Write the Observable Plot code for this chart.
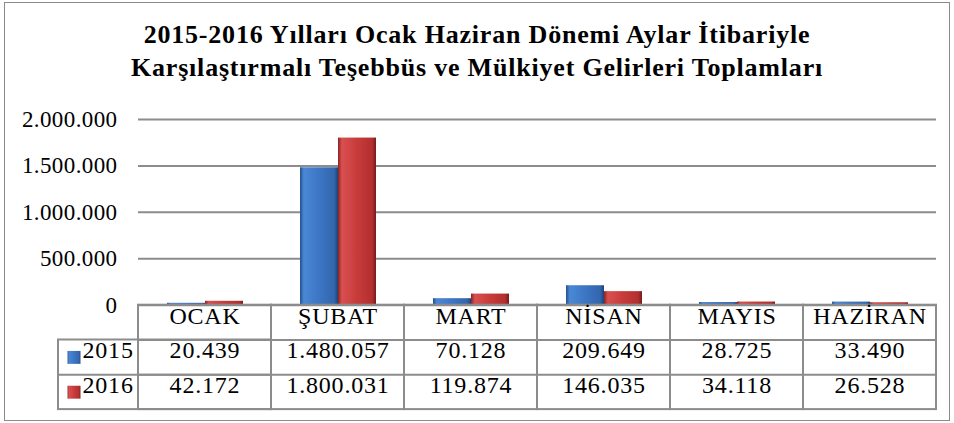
<!DOCTYPE html>
<html>
<head>
<meta charset="utf-8">
<script src="https://cdn.jsdelivr.net/npm/d3@7"></script>
<script src="https://cdn.jsdelivr.net/npm/@observablehq/plot@0.6"></script>
<style>
  html, body { margin: 0; padding: 0; background: #fff; }
  svg { display: block; }
  #chart svg text { letter-spacing: 0.8px; }
  #chart svg g[aria-label="y-axis tick label"] text { letter-spacing: 0.4px; }
</style>
</head>
<body>
<div id="wrap" style="position:relative;width:954px;height:423px;overflow:hidden;font-family:'Liberation Serif','Times New Roman',serif;">
  <div id="title" style="height:100px;box-sizing:border-box;padding-top:17.5px;text-align:center;font-family:'Liberation Serif','Times New Roman',serif;font-weight:bold;font-size:26px;line-height:33px;letter-spacing:0.8px;color:#000;"></div>
  <div id="chart"></div>
  <div id="border" style="position:absolute;left:4px;top:2px;width:946px;height:419px;border:1.5px solid #8a8a8a;box-sizing:border-box;pointer-events:none;"></div>
</div>
<script>
const titleLines = ["2015-2016 Yılları Ocak Haziran Dönemi Aylar İtibariyle", "Karşılaştırmalı Teşebbüs ve Mülkiyet Gelirleri Toplamları"];
const months = ["OCAK", "ŞUBAT", "MART", "NİSAN", "MAYIS", "HAZİRAN"];
const years = ["2015", "2016"];
const values2015 = [20439, 1480057, 70128, 209649, 28725, 33490];
const values2016 = [42172, 1800031, 119874, 146035, 34118, 26528];
const yTicks = [0, 500000, 1000000, 1500000, 2000000];

document.getElementById("title").innerHTML = titleLines.map(t => `<div>${t}</div>`).join("");

const series = {"2015": values2015, "2016": values2016};
const data = months.flatMap((m, i) => years.map(y => ({month: m, year: y, value: series[y][i]})));
const fmt = d3.formatLocale({decimal: ",", thousands: ".", grouping: [3], currency: ["", ""]}).format(",d");

const ROW = 34.8;
const grid = "#8c8c8c";
const FONT = 24;
const TICKFONT = 23;
const FAMILY = "Liberation Serif";

const marks = [
  Plot.ruleY(yTicks.slice(1), {stroke: grid, strokeWidth: 2}),
  Plot.barY(data, {fx: "month", x: "year", y: "value", fill: d => `url(#bar${d.year})`}),
  Plot.ruleY([0], {stroke: grid, strokeWidth: 2}),
  // table cells for month columns
  Plot.rect(months, {fx: d => d, y1: () => 0, y2: () => 0, insetBottom: -3 * ROW, stroke: grid, strokeWidth: 2, fill: "none"}),
  Plot.ruleY([0], {dy: ROW, stroke: grid, strokeWidth: 2}),
  Plot.ruleY([0], {dy: 2 * ROW, stroke: grid, strokeWidth: 2}),
  // legend column
  Plot.rect([months[0]], {fx: d => d, y1: () => 0, y2: () => 0, insetTop: ROW, insetBottom: -3 * ROW, insetLeft: -80, stroke: grid, strokeWidth: 2, fill: "none"}),
  Plot.ruleY([months[0]], {fx: d => d, y: () => 0, dy: 2 * ROW, insetLeft: -80, stroke: grid, strokeWidth: 2}),
  // header
  Plot.text(months, {fx: d => d, text: d => d, frameAnchor: "bottom", dy: ROW / 2 + 1, fontSize: FONT, fontFamily: FAMILY, fill: "#000"}),
  // values
  ...years.map((yr, k) => Plot.text(data.filter(d => d.year === yr), {fx: "month", text: d => fmt(d.value), frameAnchor: "bottom", dy: (k + 1.5) * ROW + 1, fontSize: FONT, fontFamily: FAMILY, fill: "#000"})),
  // legend labels
  ...years.map((yr, k) => Plot.text([yr], {fx: () => months[0], text: d => d, frameAnchor: "bottom-left", textAnchor: "start", dx: -56, dy: (k + 1.5) * ROW + 1, fontSize: FONT, fontFamily: FAMILY, fill: "#000"})),
  ...years.map((yr, k) => Plot.dot([yr], {fx: () => months[0], frameAnchor: "bottom-left", symbol: "square", r: 7.3, fill: d => `url(#bar${d})`, dx: -64.5, dy: (k + 1.5) * ROW})),
  Plot.axisY({ticks: yTicks, tickFormat: fmt, tickSize: 0, tickPadding: 21, line: true, stroke: grid, strokeWidth: 2, fill: "#000", label: null, fontSize: TICKFONT, fontFamily: FAMILY})
];

const chart = Plot.plot({
  width: 954,
  height: 323,
  marginTop: 19,
  marginBottom: 118.3,
  marginLeft: 138,
  marginRight: 18,
  style: {fontFamily: FAMILY, fontSize: FONT + "px", color: "#000", background: "transparent", overflow: "visible"},
  fx: {domain: months, padding: 0, axis: null, label: null},
  x: {domain: years, paddingInner: 0, paddingOuter: 0.727, axis: null},
  y: {domain: [0, 2000000], axis: null},
  color: {type: "identity"},
  marks
});
chart.setAttribute("font-family", FAMILY);

const svg = d3.select(chart);
const defs = svg.insert("defs", ":first-child");
const grads = {
  "2015": [[0, "#24508a"], [0.1, "#4a88d6"], [0.5, "#3c76c4"], [0.9, "#3366ad"], [1, "#1d4476"]],
  "2016": [[0, "#8a2222"], [0.1, "#d95050"], [0.5, "#c83b3b"], [0.9, "#b32f2f"], [1, "#741b1b"]]
};
for (const y of years) {
  const g = defs.append("linearGradient").attr("id", "bar" + y).attr("x1", 0).attr("x2", 1).attr("y1", 0).attr("y2", 0);
  for (const [o, c] of grads[y]) g.append("stop").attr("offset", o).attr("stop-color", c);
}
document.getElementById("chart").appendChild(chart);
</script>
</body>
</html>
